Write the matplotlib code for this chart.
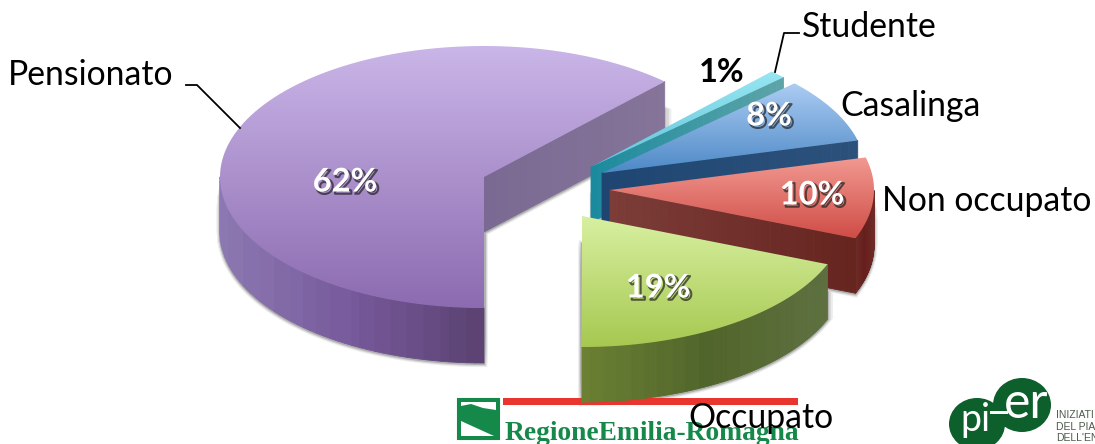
import numpy as np
import matplotlib
matplotlib.use("Agg")
import matplotlib.pyplot as plt
import matplotlib.patheffects as pe
from matplotlib.collections import PolyCollection
from matplotlib.colors import to_rgb
from matplotlib.patches import Polygon, Rectangle, Ellipse

# ---- data (counter-clockwise from the bottom of the pie)
categories = ["Occupato", "Non occupato", "Casalinga", "Studente", "Pensionato"]
percent = [19, 10, 8, 1, 62]
percent_labels = ["19%", "10%", "8%", "1%", "62%"]

# ---- layout and style
START = -90.0
RX, RY, DEPTH = 264.0, 131.0, 55.0
APEX = {"Occupato": (582, 216), "Non occupato": (610, 190), "Casalinga": (602, 173),
        "Studente": (591, 167), "Pensionato": (484, 177)}
TOP = {"Occupato": ("#d8f0a2", "#a6c850"), "Non occupato": ("#f29a92", "#cf4c46"),
       "Casalinga": ("#adcdf3", "#4c88c6"), "Studente": ("#98e6f2", "#62c6da"),
       "Pensionato": ("#cab6e8", "#8c6bb0")}
RIM = {"Occupato": ["#6b8033", "#50652a", "#5e7040"], "Non occupato": ["#6e2c28", "#661f1c", "#6e2a26"],
       "Casalinga": ["#2c527c", "#2c527c"], "Studente": ["#5fa5a8", "#5fa5a8"],
       "Pensionato": ["#8c78b2", "#76599a", "#59406f"]}
WALL = {"Occupato": ["#6b8033", "#6b8033"], "Non occupato": ["#7c3c38", "#66241f"],
        "Casalinga": ["#1f4672", "#2c527c"], "Studente": ["#1c8a9e", "#5fa5a8"],
        "Pensionato": ["#7a6992", "#867599"]}
DRAW_ORDER = ["Pensionato", "Studente", "Casalinga", "Non occupato", "Occupato"]
LABEL_FONT = ["Lato", "DejaVu Sans"]
LABEL_SIZE = 24.3
PCT_SIZE = 23.5

fig = plt.figure(figsize=(10.95, 4.44), dpi=100)
ax = fig.add_axes([0, 0, 1, 1])


def ramp(stops, t):
    stops = np.array([to_rgb(c) for c in stops])
    pos = np.linspace(0, 1, len(stops))
    return np.column_stack([np.interp(t, pos, stops[:, i]) for i in range(3)])


def rim_points(cx, cy, a0, a1, n=120):
    th = np.linspace(a0, a1, n)
    r = np.radians(th)
    return np.column_stack([cx + RX * np.cos(r), cy - RY * np.sin(r)]), np.sin(r)


angles = np.concatenate([[0], np.cumsum(percent)]) / np.sum(percent) * 360 + START
span = {c: (angles[i], angles[i + 1]) for i, c in enumerate(categories)}

# soft shadow below everything (only seen on the white background)
for lw, col in ((4.5, "#eeeeee"), (3, "#d6d6d6"), (1.5, "#b0b0b0")):
    for name in DRAW_ORDER:
        cx, cy = APEX[name]
        pts = np.vstack([[cx, cy], rim_points(cx, cy, *span[name])[0]])
        for dy in np.arange(28, DEPTH + 1.5, 1.0):
            ax.add_patch(Polygon(pts + [0, dy], closed=True, fc=col, ec=col, lw=lw, zorder=1))

for k, name in enumerate(DRAW_ORDER):
    z = 10 + 2 * k
    cx, cy = APEX[name]
    a0, a1 = span[name]
    rim, s = rim_points(cx, cy, a0, a1)

    # outer rim facing the viewer, shaded in bands by x position
    front = [i for i in range(len(rim) - 1) if (s[i] + s[i + 1]) <= 0]
    if front:
        xs = rim[front + [front[-1] + 1], 0]
        quads = [[rim[i], rim[i + 1], rim[i + 1] + [0, DEPTH], rim[i] + [0, DEPTH]] for i in front]
        tx = (rim[front, 0] - xs.min()) / (np.ptp(xs) + 1e-6)
        tx = np.round(tx * 18) / 18
        cols = ramp(RIM[name], tx)
        ax.add_collection(PolyCollection(quads, facecolors=cols, edgecolors=cols, linewidths=0.6, zorder=z))

    # wall below the clockwise cut edge
    t = np.linspace(0, 1, 30)
    edge = np.array([cx, cy]) + t[:, None] * (rim[0] - [cx, cy])
    quads = [[edge[i], edge[i + 1], edge[i + 1] + [0, DEPTH], edge[i] + [0, DEPTH]] for i in range(len(t) - 1)]
    cols = ramp(WALL[name], t[:-1])
    ax.add_collection(PolyCollection(quads, facecolors=cols, edgecolors=cols, linewidths=0.6, zorder=z))

    # top surface with a vertical gradient
    pts = np.vstack([[cx, cy], rim])
    grad = ramp(TOP[name], np.linspace(0, 1, 128))[:, None, :]
    x0, y0 = pts.min(axis=0)
    x1, y1 = pts.max(axis=0)
    im = ax.imshow(grad, extent=(x0 - 1, x1 + 1, y1 + 1, y0 - 1), origin="upper", aspect="auto",
                   interpolation="bilinear", zorder=z + 1)
    im.set_clip_path(Polygon(pts, closed=True, transform=ax.transData))

ax.set_xlim(0, 1095)
ax.set_ylim(444, 0)
ax.axis("off")

# leader lines
ax.plot([186, 197, 240], [85, 85, 128], color="black", lw=1.3, zorder=40)
ax.plot([799, 784, 775], [33, 33, 72], color="black", lw=1.3, zorder=40)

# logo: Regione Emilia-Romagna
LOGO_GREEN = "#14894a"
ax.add_patch(Rectangle((503, 398), 295, 7, fc="#e8352e", ec="none", zorder=3))
ax.add_patch(Rectangle((458, 399), 41, 40, fc=LOGO_GREEN, ec=LOGO_GREEN, lw=1.5, zorder=3))
ax.add_patch(Polygon([[461, 402], [496, 402], [496, 410], [483, 408], [471, 404], [461, 406]],
                     closed=True, fc="white", ec="none", zorder=4))
ax.add_patch(Polygon([[461, 421], [461, 436], [494, 436]], closed=True, fc="white", ec="none", zorder=4))
ax.text(505, 440, "RegioneEmilia-Romagna", family=["Liberation Serif", "DejaVu Serif"], weight="bold",
        fontsize=19.8, color=LOGO_GREEN, ha="left", va="baseline", zorder=5)

# logo: piter
PITER = "#0d5f2c"
ax.add_patch(Ellipse((977, 424), 56, 52, fc=PITER, ec="none", zorder=3))
ax.add_patch(Ellipse((1022, 405), 58, 54, fc=PITER, ec="none", zorder=3))
ax.add_patch(Rectangle((990, 411), 18, 3, fc="white", ec="none", zorder=5))
ax.text(975, 420, "pi", family=["Lato"], fontsize=27, color="white", ha="center", va="center", zorder=6)
ax.text(1026, 404, "er", family=["Lato"], fontsize=36, color="white", ha="center", va="center", zorder=6)
for y, s in ((415, "INIZIATI"), (427, "DEL PIA"), (438, "DELL'EN")):
    ax.text(1056, y, s, family=["Liberation Sans"], fontsize=7.5, color="#4a5a4a", ha="left", va="center", zorder=5)

# category labels
label_pos = {"Studente": (802, 27), "Casalinga": (840, 106), "Non occupato": (882, 201),
             "Occupato": (688, 418), "Pensionato": (8, 75)}
for name in categories:
    x, y = label_pos[name]
    ax.text(x, y, name, family=LABEL_FONT, fontsize=LABEL_SIZE, color="black", ha="left", va="center", zorder=41)

# percentage labels
pct_pos = {"Occupato": (658, 288), "Non occupato": (812, 195), "Casalinga": (769, 116),
           "Studente": (722, 73), "Pensionato": (345, 182)}
for name, s in zip(categories, percent_labels):
    x, y = pct_pos[name]
    if name == "Studente":
        ax.text(x, y, s, family=LABEL_FONT, weight="bold", fontsize=PCT_SIZE, color="black",
                ha="center", va="center", zorder=41)
    else:
        ax.text(x, y, s, family=LABEL_FONT, weight="bold", fontsize=PCT_SIZE, color="white",
                ha="center", va="center", zorder=41,
                path_effects=[pe.SimpleLineShadow(offset=(1.6, -1.6), shadow_color="#222222", alpha=0.7, linewidth=1.5),
                              pe.Normal()])

fig.savefig("out.png", dpi=100)
